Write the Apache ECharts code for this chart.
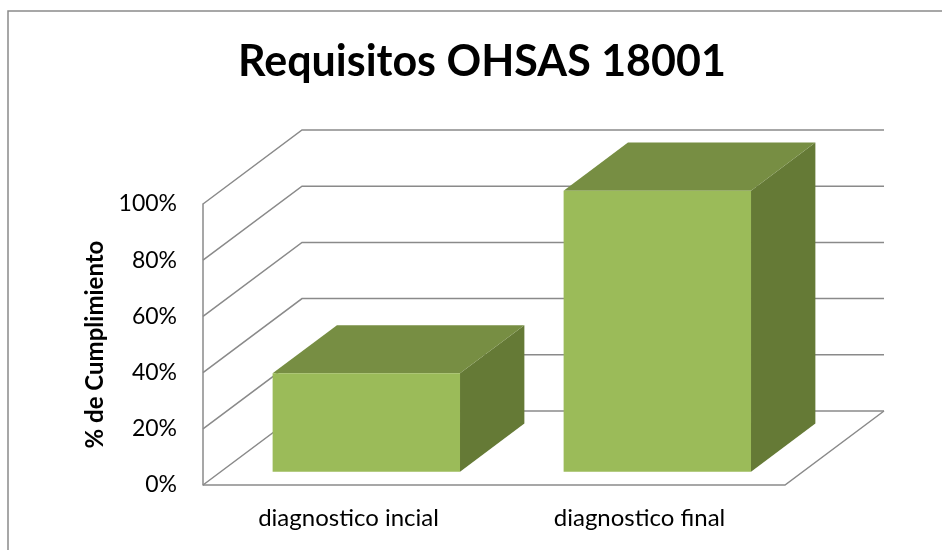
<!DOCTYPE html>
<html>
<head>
<meta charset="utf-8">
<script src="https://cdn.jsdelivr.net/npm/echarts@6/dist/echarts.min.js"></script>
<style>html,body{margin:0;padding:0;background:#fff}#chart{width:942px;height:550px}</style>
</head>
<body>
<div id="chart"></div>
<script>
const title = 'Requisitos OHSAS 18001';
const categories = ['diagnostico incial', 'diagnostico final'];
const values = [0.35, 1.00];
const yTicks = [0, 0.2, 0.4, 0.6, 0.8, 1.0];
const yAxisName = '% de Cumplimiento';

// oblique depth projection (full depth of the floor)
const DX = 99, DY = -74;
const F1 = 0.18, F2 = 0.83;       // bar front/back depth fractions
const BAR_FRAC = 0.644;           // bar width / band width
const FONT = 'Lato';
const GRID_COLOR = '#8a8a8a';

const chart = echarts.init(document.getElementById('chart'), null, {renderer: 'canvas'});

function wallsRender(params, api) {
  const cs = params.coordSys;
  const v = api.value(0);
  const y = api.coord([0, v])[1];
  const x0 = cs.x, w = cs.width;
  const children = [{
    type: 'polyline',
    shape: {points: [[x0, y], [x0 + DX, y + DY], [x0 + w + DX, y + DY]]},
    style: {stroke: GRID_COLOR, lineWidth: 1.5, fill: null}
  }];
  if (v === 0) {
    children.push({
      type: 'polyline',
      shape: {points: [[x0, y], [x0 + w, y], [x0 + w + DX, y + DY]]},
      style: {stroke: GRID_COLOR, lineWidth: 1.5, fill: null}
    });
  }
  return {type: 'group', children};
}

function barsRender(params, api) {
  const idx = api.value(0);
  const v = api.value(1);
  const base = api.coord([idx, 0]);
  const top = api.coord([idx, v]);
  const band = api.size([1, 0])[0];
  const bw = band * BAR_FRAC;
  const ox = DX * F1, oy = DY * F1;
  const ddx = DX * (F2 - F1), ddy = DY * (F2 - F1);
  const L = base[0] - bw / 2 + ox, R = base[0] + bw / 2 + ox;
  const B = base[1] + oy, T = top[1] + oy;
  return {
    type: 'group',
    children: [
      {type: 'polygon', shape: {points: [[R, B], [R, T], [R + ddx, T + ddy], [R + ddx, B + ddy]]},
       style: {fill: '#657a36'}},
      {type: 'polygon', shape: {points: [[L, T], [R, T], [R + ddx, T + ddy], [L + ddx, T + ddy]]},
       style: {fill: '#778e43'}},
      {type: 'rect', shape: {x: L, y: T, width: R - L, height: B - T},
       style: {fill: '#9bbb59'}}
    ]
  };
}

chart.setOption({
  animation: false,
  backgroundColor: '#fff',
  title: {
    text: title, left: 233, top: 36,
    textStyle: {fontFamily: FONT, fontWeight: 'bold', fontSize: 43, color: '#000'}
  },
  graphic: [{
    type: 'rect', silent: true, z: -1,
    shape: {x: 8, y: 11, width: 1000, height: 700},
    style: {fill: null, stroke: '#8a8a8a', lineWidth: 1.5}
  }],
  grid: {left: 203, top: 204, width: 582, height: 281},
  xAxis: {
    type: 'category', data: categories,
    axisLine: {show: false}, axisTick: {show: false},
    axisLabel: {fontFamily: FONT, fontSize: 24, color: '#000', margin: 21}
  },
  yAxis: {
    type: 'value', min: 0, max: 1, interval: 0.2,
    name: yAxisName, nameLocation: 'middle', nameRotate: 90, nameGap: 95,
    nameTextStyle: {fontFamily: FONT, fontWeight: 'bold', fontSize: 24, color: '#000'},
    axisLine: {show: true, lineStyle: {color: GRID_COLOR, width: 1.5}},
    axisTick: {show: false},
    splitLine: {show: false},
    axisLabel: {fontFamily: FONT, fontSize: 23, color: '#000', margin: 26,
      formatter: v => Math.round(v * 100) + '%'}
  },
  series: [
    {type: 'custom', renderItem: wallsRender, data: yTicks.map(v => [v]), z: 1, silent: true},
    {type: 'custom', renderItem: barsRender,
     data: values.map((v, i) => [i, v]), encode: {x: 0, y: 1}, z: 2}
  ]
});
</script>
</body>
</html>
